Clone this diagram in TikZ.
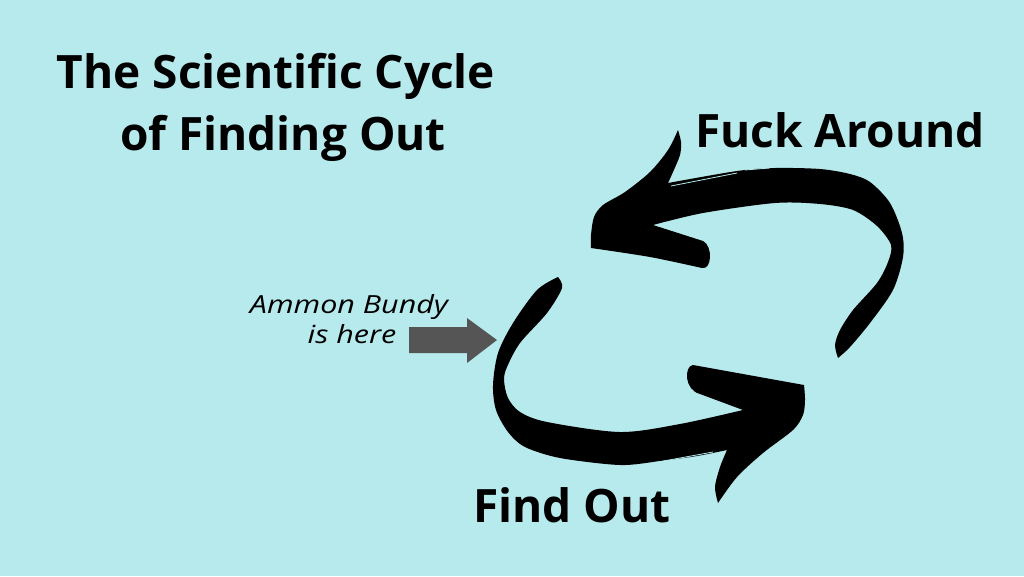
\documentclass[tikz,border=0pt]{standalone}
\usepackage{fontspec}
\setmainfont{Open Sans}
\newfontfamily\pointerfont{Open Sans}[FakeStretch=1.22]
\definecolor{bgcyan}{RGB}{183,234,236}
\definecolor{pointergray}{RGB}{85,85,85}
\tikzset{
  bigtext/.style={anchor=base,inner sep=0pt,font=\fontsize{46}{55}\selectfont\bfseries},
  smalltext/.style={anchor=base,inner sep=0pt,font=\pointerfont\fontsize{25}{30}\selectfont\itshape},
  brush/.style={fill=black},
  streak/.style={draw=bgcyan,line width=0.8pt}
}
\begin{document}
\begin{tikzpicture}[x=1pt,y=-1pt]
  \fill[bgcyan] (0,0) rectangle (1024,576);
  \useasboundingbox (0,0) rectangle (1024,576);
  % texts
  \node[bigtext] (title1) at (276,88) {The Scientific Cycle};
  \node[bigtext] (title2) at (283,150) {of Finding Out};
  \node[bigtext] (fuck) at (840,147) {Fuck Around};
  \node[bigtext] (find) at (572,522) {Find Out};
  \node[smalltext] (who1) at (349,313) {Ammon Bundy};
  \node[smalltext] (who2) at (352,343) {is here};
  % upper brush arrow
  \fill[brush] plot[smooth] coordinates {(838,358) (850,347) (870,323) (893,290) (903,257) (902,233) (890,203) (870,182) (850,174) (820,169) (775,168) (737,171) (668,183)}
    -- plot[smooth] coordinates {(668,183) (673,172) (680,155) (681,142) (678,130)}
    -- plot[smooth] coordinates {(678,130) (668,150) (650,172) (625,192) (603,205) (594,217) (591,235) (591,248)}
    -- plot[smooth] coordinates {(591,248) (650,257) (702,268)}
    .. controls (712,270) and (713,246) .. (703,241)
    -- (653,225)
    -- plot[smooth] coordinates {(653,225) (703,213) (775,203) (820,204) (853,210) (877,226) (891,245) (888,262) (877,283) (853,310) (840,330) (835,345) (838,358)} -- cycle;
  % lower brush arrow
  \fill[brush] plot[smooth] coordinates {(558,277) (537,290) (513,323) (498,353) (493,385) (496,410) (508,432) (525,447) (560,458) (620,465) (660,461) (697,456) (727,450)}
    -- plot[smooth] coordinates {(727,450) (720,467) (715,487) (718,503)}
    -- plot[smooth] coordinates {(718,503) (737,477) (763,453) (793,430) (803,415) (805,400) (804,385)}
    -- (693,365)
    .. controls (684,366) and (684,390) .. (700,394)
    -- (743,410)
    -- plot[smooth] coordinates {(743,410) (680,424) (620,432) (547,422) (520,412) (508,398) (504,380) (507,367) (520,343) (547,313) (562,288) (558,277)} -- cycle;
  % brush texture
  \draw[streak] (671,186) -- (737,173);
  \draw[streak] (745,170) -- (770,168);
  \draw[streak] (658,462) -- (713,452);
  \draw[streak] (632,466) -- (652,464);
  % pointer
  \fill[pointergray] (409,327) -- (467,327) -- (467,318) -- (497,340) -- (467,363) -- (467,353) -- (409,353) -- cycle;
\end{tikzpicture}
\end{document}
